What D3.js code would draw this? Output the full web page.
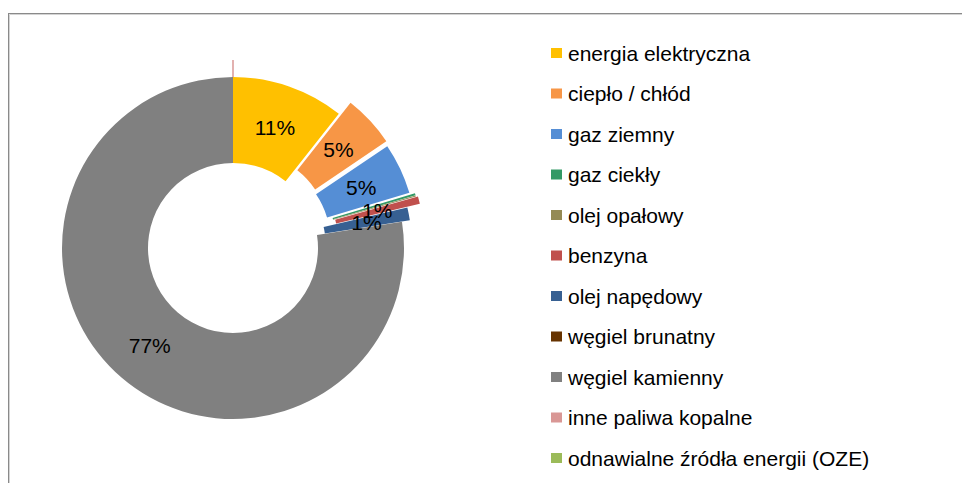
<!DOCTYPE html>
<html>
<head>
<meta charset="utf-8">
<script src="https://cdn.jsdelivr.net/npm/d3@7"></script>
<style>
  body { margin: 0; background: #fff; }
  text { font-family: "Liberation Sans", Arial, sans-serif; }
</style>
</head>
<body>
<div id="chart"></div>
<script>
const width = 962, height = 483;

// data (percent shares)
const categories = ["energia elektryczna", "ciepło / chłód", "gaz ziemny", "gaz ciekły",
  "olej opałowy", "benzyna", "olej napędowy", "węgiel brunatny", "węgiel kamienny",
  "inne paliwa kopalne", "odnawialne źródła energii (OZE)"];
const values = [10.6, 4.9, 4.8, 0.2, 0.1, 0.7, 1.2, 0.0, 77.3, 0.0, 0.0];
const labels = ["11%", "5%", "5%", "", "", "1%", "1%", "", "77%", "", ""];
const colors = ["#ffc000", "#f79646", "#558ed5", "#339966", "#948a54", "#c0504d",
  "#376092", "#663300", "#808080", "#d99795", "#9bbb59"];
const explode = [0, 16, 14, 19, 19, 21, 8, 0, 0, 17, 0];

const cx = 233, cy = 248, rOut = 171, rIn = 85;

let svg = d3.select("#chart").append("svg")
    .attr("width", width)
    .attr("height", height);

// frame
svg.append("rect")
   .attr("x", 8.5).attr("y", 13.5)
   .attr("width", 1000).attr("height", 1000)
   .attr("fill", "none").attr("stroke", "#8a8a8a");
svg.append("path")
   .attr("d", "M9.5,1000V14.5H962")
   .attr("fill", "none").attr("stroke", "#d4d4d4");

let pie = d3.pie().sort(null).value(d => d);
let arcs = pie(values);
let arc = d3.arc().innerRadius(rIn).outerRadius(rOut);
let labelArc = d3.arc().innerRadius((rIn + rOut) / 2).outerRadius((rIn + rOut) / 2);

let g = svg.append("g").attr("transform", `translate(${cx},${cy})`);

function shift(d, i) {
    let a = (d.startAngle + d.endAngle) / 2;
    return [Math.sin(a) * explode[i], -Math.cos(a) * explode[i]];
}

// zero slices that only show as a thin line
arcs.forEach((d, i) => {
    if (values[i] === 0 && explode[i] > 0) {
        let [dx, dy] = shift(d, i);
        g.append("path")
         .attr("transform", `translate(${dx},${dy})`)
         .attr("d", arc(d))
         .attr("fill", "none")
         .attr("stroke", colors[i])
         .attr("stroke-width", 1);
    }
});

arcs.forEach((d, i) => {
    if (values[i] === 0) return;
    let [dx, dy] = shift(d, i);
    g.append("path")
     .attr("transform", `translate(${dx},${dy})`)
     .attr("d", arc(d))
     .attr("fill", colors[i]);
});

arcs.forEach((d, i) => {
    if (!labels[i]) return;
    let [dx, dy] = shift(d, i);
    let [lx, ly] = labelArc.centroid(d);
    g.append("text")
     .attr("x", lx + dx).attr("y", ly + dy + 7.5)
     .attr("text-anchor", "middle")
     .attr("font-size", 21)
     .attr("fill", "#000")
     .text(labels[i]);
});

// legend
let legend = svg.append("g").attr("transform", "translate(551,53)");
categories.forEach((c, i) => {
    let row = legend.append("g").attr("transform", `translate(0,${i * 40.5})`);
    row.append("rect")
       .attr("x", 0).attr("y", -5)
       .attr("width", 11).attr("height", 10)
       .attr("fill", colors[i]);
    row.append("text")
       .attr("x", 17).attr("y", 7.6)
       .attr("font-size", 21)
       .attr("fill", "#000")
       .text(c);
});
</script>
</body>
</html>
